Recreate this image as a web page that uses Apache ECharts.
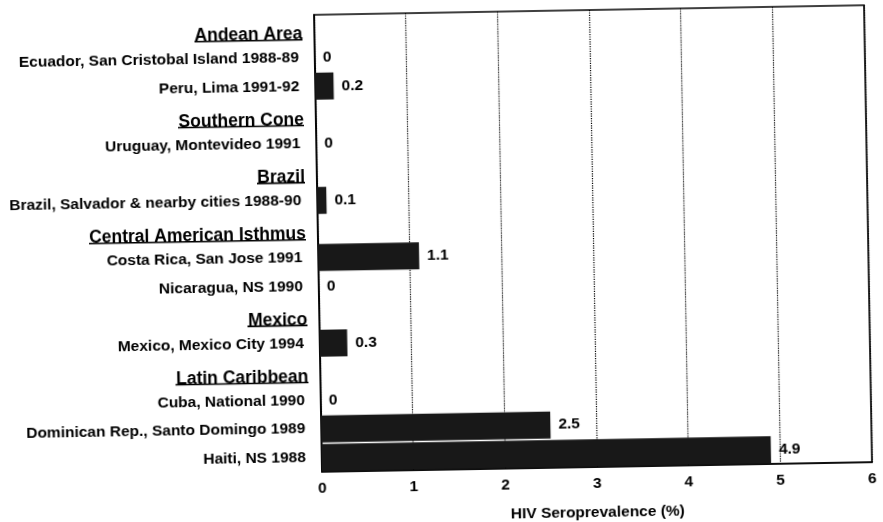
<!DOCTYPE html>
<html>
<head>
<meta charset="utf-8">
<script src="https://cdn.jsdelivr.net/npm/echarts@6/dist/echarts.min.js"></script>
<style>html,body{margin:0;padding:0;background:#fff;overflow:hidden;}#c{width:883px;height:522px;transform:rotate(-1deg);transform-origin:593px 238px;}</style>
</head>
<body>
<div id="c"></div>
<script>
const categories = ['Andean Area','Ecuador, San Cristobal Island 1988-89','Peru, Lima 1991-92','Southern Cone','Uruguay, Montevideo 1991','Brazil','Brazil, Salvador & nearby cities 1988-90','Central American Isthmus','Costa Rica, San Jose 1991','Nicaragua, NS 1990','Mexico','Mexico, Mexico City 1994','Latin Caribbean','Cuba, National 1990','Dominican Rep., Santo Domingo 1989','Haiti, NS 1988'];
const isHeader = [true,false,false,true,false,true,false,true,false,false,true,false,true,false,false,false];
const values = [null,0,0.2,null,0,null,0.1,null,1.1,0,null,0.3,null,0,2.5,4.9];
const xTicks = [0,1,2,3,4,5,6];
const xTitle = 'HIV Seroprevalence (%)';

const FONT = '"Liberation Sans", Arial, sans-serif';
const HEAD_SIZE = 17.5;
const ITEM_SIZE = 15.5;
const ctx = document.createElement('canvas').getContext('2d');
ctx.font = 'bold ' + HEAD_SIZE + 'px ' + FONT;
const headWidth = {};
categories.forEach((c, i) => { if (isHeader[i]) headWidth[c] = Math.ceil(ctx.measureText(c).width); });

const rich = {
  it: {fontFamily: FONT, fontSize: ITEM_SIZE, fontWeight: 'bold', color: '#000', padding: [0, 4, 0, 0]},
  h: {fontFamily: FONT, fontSize: HEAD_SIZE, fontWeight: 'bold', color: '#000', lineHeight: 21, padding: [12, 0, 0, 0]}
};
categories.forEach((c, i) => {
  if (isHeader[i]) rich['u' + i] = {width: headWidth[c], height: 1.6, lineHeight: 2, backgroundColor: '#000'};
});

const chart = echarts.init(document.getElementById('c'), null, {renderer: 'canvas'});
chart.setOption({
  animation: false,
  backgroundColor: '#fff',
  grid: {left: 318, right: 15, top: 10, bottom: 55, show: true, borderColor: '#000', borderWidth: 1.6,
    containLabel: false, outerBoundsMode: 'none'},
  xAxis: {
    type: 'value', min: 0, max: 6, interval: 1,
    axisLine: {show: true, lineStyle: {color: '#000', width: 1.6}},
    axisTick: {show: false},
    splitLine: {show: true, lineStyle: {color: '#000', type: 'dotted', width: 1.2}},
    axisLabel: {fontFamily: FONT, fontSize: ITEM_SIZE, fontWeight: 'bold', color: '#000', margin: 9,
      formatter: v => xTicks.includes(v) ? String(v) : ''},
    name: xTitle, nameLocation: 'middle', nameGap: 38,
    nameTextStyle: {fontFamily: FONT, fontSize: ITEM_SIZE, color: '#000', fontWeight: 'bold'}
  },
  yAxis: {
    type: 'category', inverse: true, data: categories,
    axisLine: {show: true, lineStyle: {color: '#000', width: 1.6}},
    axisTick: {show: false},
    splitLine: {show: false},
    axisLabel: {
      interval: 0, margin: 12, align: 'right',
      formatter: (v) => {
        const idx = categories.indexOf(v);
        return isHeader[idx] ? '{h|' + v + '}\n{u' + idx + '|}' : '{it|' + v + '}';
      },
      rich: rich
    }
  },
  series: [{
    type: 'bar', data: values, barWidth: 27,
    itemStyle: {color: '#181818'},
    label: {show: true, position: 'right', distance: 8, fontFamily: FONT, fontSize: ITEM_SIZE, fontWeight: 'bold', color: '#000',
      formatter: p => p.value == null ? '' : String(p.value)}
  }]
});
</script>
</body>
</html>
